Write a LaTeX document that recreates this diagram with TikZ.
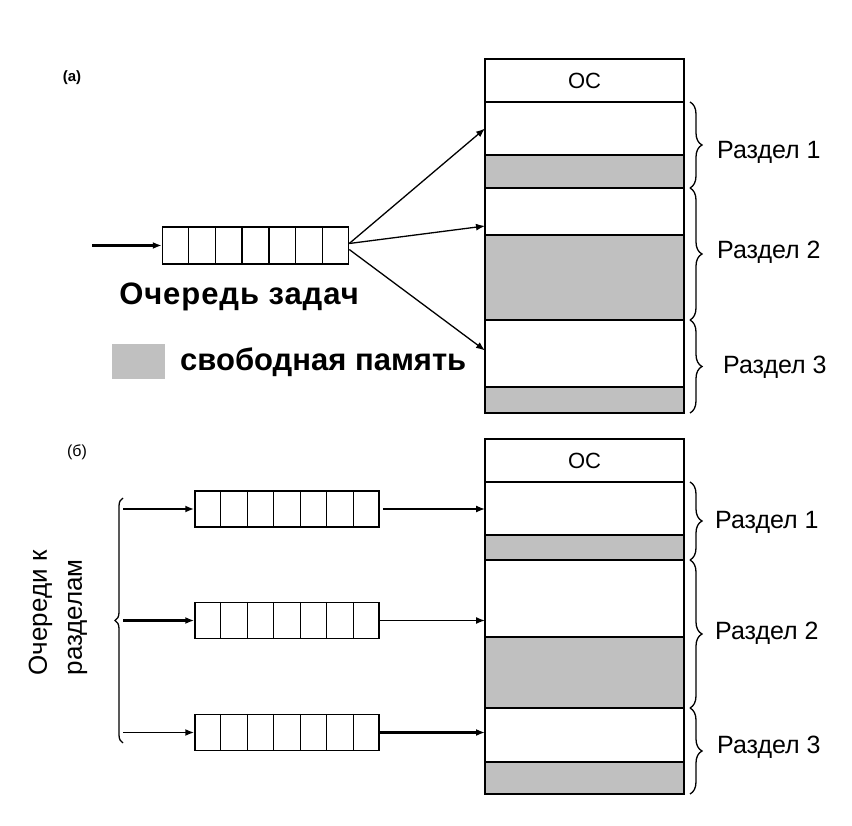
\documentclass[tikz,border=0pt]{standalone}
\usepackage{fontspec}
\setmainfont{Liberation Sans}
\usetikzlibrary{decorations.pathreplacing,arrows.meta,calc}
\definecolor{freegray}{RGB}{192,192,192}
\begin{document}
\begin{tikzpicture}[x=1pt,y=-1pt,
  queue/.style={draw,line width=1.5pt,minimum width=186pt,minimum height=37pt,inner sep=0pt},
  mem/.style={draw,line width=1.8pt,minimum width=199pt,inner sep=0pt,outer sep=0pt,anchor=north west},
  free/.style={fill=freegray},
  arr/.style={-{Latex[length=9pt,width=7pt]},line width=1.3pt},
  thickarr/.style={-{Latex[length=9pt,width=7pt]},line width=2.8pt},
  brc/.style={decorate,decoration={brace,amplitude=12pt},line width=1.3pt},
  sbrc/.style={decorate,decoration={brace,amplitude=8pt},line width=1.3pt},
  lbl/.style={font=\fontsize{25}{29}\selectfont,anchor=west,inner sep=0pt},
  big/.style={font=\fontsize{31}{36}\selectfont\bfseries\addfontfeature{LetterSpace=3},inner sep=0pt},
]
\useasboundingbox (0,0) rectangle (852,826);
\fill[white] (0,0) rectangle (852,826);

% ---------- (a) ----------
\node[font=\fontsize{15}{17}\selectfont\bfseries] (la) at (72,78) {(а)};

% memory top
\node[mem,minimum height=43pt,font=\fontsize{22}{24}\selectfont] (os1) at (485,59) {ОС};
\node[mem,minimum height=53pt] (a1w) at (485,102) {};
\node[mem,free,minimum height=33pt] (a1g) at (485,155) {};
\node[mem,minimum height=47pt] (a2w) at (485,188) {};
\node[mem,free,minimum height=85pt] (a2g) at (485,235) {};
\node[mem,minimum height=67pt] (a3w) at (485,320) {};
\node[mem,free,minimum height=26pt] (a3g) at (485,387) {};

% queue top
\node[queue] (q) at (255.5,245.5) {};
\foreach \i in {1,...,6}
  \draw[line width=1.4pt] ($(q.north west)!\i/7!(q.north east)$) -- ($(q.south west)!\i/7!(q.south east)$);
\coordinate (in0) at (92,245.5);
\draw[thickarr] (in0) -- (q.west);
\node[big] (qt) at (239,297) {Очередь задач};

\draw[arr] ([yshift=2pt]q.east) -- (a1w.west);
\draw[arr] ([yshift=2pt]q.east) -- ([yshift=9pt]a2w.south west);
\draw[arr] ([yshift=-4pt]q.east) -- ([yshift=3pt]a3w.west);

% legend
\node[fill=freegray,minimum width=53pt,minimum height=35pt,inner sep=0pt] (leg) at (138.5,361.5) {};
\node[big,anchor=west,font=\fontsize{31}{36}\selectfont\bfseries] (legt) at (180,362) {свободная память};

% braces top
\draw[brc] ([xshift=6pt]a1w.north east) -- ([xshift=6pt]a1g.south east);
\draw[brc] ([xshift=6pt]a2w.north east) -- ([xshift=6pt]a2g.south east);
\draw[brc] ([xshift=6pt]a3w.north east) -- ([xshift=6pt]a3g.south east);
\node[lbl] (r1) at (717,152) {Раздел 1};
\node[lbl] (r2) at (717,252) {Раздел 2};
\node[lbl] (r3) at (723,367) {Раздел 3};

% ---------- (б) ----------
\node[font=\fontsize{16}{18}\selectfont] (lb) at (77,452) {(б)};

\node[mem,minimum height=43pt,font=\fontsize{22}{24}\selectfont] (os2) at (485,439) {ОС};
\node[mem,minimum height=53pt] (b1w) at (485,482) {};
\node[mem,free,minimum height=25pt] (b1g) at (485,535) {};
\node[mem,minimum height=77pt] (b2w) at (485,560) {};
\node[mem,free,minimum height=71pt] (b2g) at (485,637) {};
\node[mem,minimum height=54pt] (b3w) at (485,708) {};
\node[mem,free,minimum height=32pt] (b3g) at (485,762) {};

\foreach \n/\y in {bq1/509,bq2/620.5,bq3/732.5}{
  \node[queue,minimum width=184pt,minimum height=36pt] (\n) at (287,\y) {};
  \foreach \i in {1,...,6}
    \draw[line width=1.4pt] ($(\n.north west)!\i/7!(\n.north east)$) -- ($(\n.south west)!\i/7!(\n.south east)$);
}
\coordinate (s1) at (123,509);
\coordinate (s2) at (123,620.5);
\coordinate (s3) at (123,732.5);
\draw[thickarr] (s1) -- (bq1.west);
\draw[thickarr] (s2) -- (bq2.west);
\draw[arr,line width=1.7pt] (s3) -- (bq3.west);

\draw[arr] ([xshift=3pt]bq1.east) -- (bq1.east -| b1w.west);
\draw[arr] (bq2.east) -- (bq2.east -| b2w.west);
\draw[thickarr] (bq3.east) -- (bq3.east -| b3w.west);

\draw[sbrc] (123,743) -- (123,498);
\node[rotate=90,align=left,font=\fontsize{26}{35}\selectfont,inner sep=0pt] (qlab) at (58,613) {Очереди к\\разделам};

\draw[brc] ([xshift=6pt]b1w.north east) -- ([xshift=6pt]b1g.south east);
\draw[brc] ([xshift=6pt]b2w.north east) -- ([xshift=6pt]b2g.south east);
\draw[brc] ([xshift=6pt]b3w.north east) -- ([xshift=6pt]b3g.south east);
\node[lbl] (t1) at (715,522) {Раздел 1};
\node[lbl] (t2) at (715,633) {Раздел 2};
\node[lbl] (t3) at (717,747) {Раздел 3};
\end{tikzpicture}
\end{document}
